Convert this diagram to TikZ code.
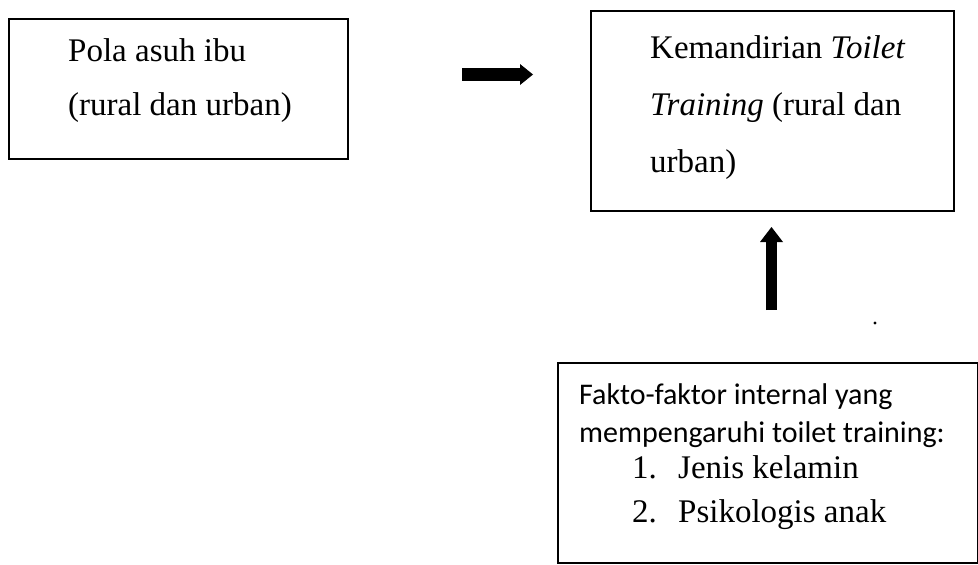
\documentclass[tikz,border=0pt]{standalone}
\usepackage{fontspec}
\setmainfont{Liberation Serif}
\newfontfamily\sansf{Carlito}
\usetikzlibrary{arrows.meta}
\tikzset{
  box/.style={draw=black, line width=1.8pt, inner sep=0pt, anchor=north west},
  txt/.style={anchor=base west, inner sep=0pt, font=\fontsize{33pt}{36pt}\selectfont},
  stxt/.style={anchor=base west, inner sep=0pt, font=\sansf\fontsize{30pt}{34pt}\selectfont},
  blockarrow/.style={draw=black, line cap=butt}
}
\begin{document}
\begin{tikzpicture}[x=1pt,y=-1pt]
\useasboundingbox (0,0) rectangle (978,565);
% boxes
\node[box, minimum width=339pt, minimum height=140pt] (b1) at (8,18) {};
\node[box, minimum width=363pt, minimum height=200pt] (b2) at (590,10) {};
\node[box, minimum width=420pt, minimum height=200pt] (b3) at (557,362) {};
% box 1 text
\node[txt] (t11) at (68,61) {Pola asuh ibu};
\node[txt] (t12) at (68,115) {(rural dan urban)};
% box 2 text
\node[txt] (t21) at (650,58) {Kemandirian \textit{Toilet}};
\node[txt] (t22) at (650,115) {\textit{Training} (rural dan};
\node[txt] (t23) at (650,172) {urban)};
% box 3 text
\node[stxt] (t31) at (579,404) {Fakto-faktor internal yang};
\node[stxt] (t32) at (579,442) {mempengaruhi toilet training:};
\node[txt] (n1) at (632,478) {1.};
\node[txt] (t33) at (678,478) {Jenis kelamin};
\node[txt] (n2) at (632,522) {2.};
\node[txt] (t34) at (678,522) {Psikologis anak};
% arrows
\coordinate (r1) at (462,74.5);
\coordinate (r2) at (533,74.5);
\draw[blockarrow, line width=13pt, -{Triangle[width=21pt,length=13pt,line width=0pt]}] (r1) -- (r2);
\coordinate (u1) at (771.5,310);
\coordinate (u2) at (771.5,227);
\draw[blockarrow, line width=11pt, -{Triangle[width=23pt,length=15pt,line width=0pt]}] (u1) -- (u2);
% speck
\fill (875,323) circle (1.6pt);
\end{tikzpicture}
\end{document}
